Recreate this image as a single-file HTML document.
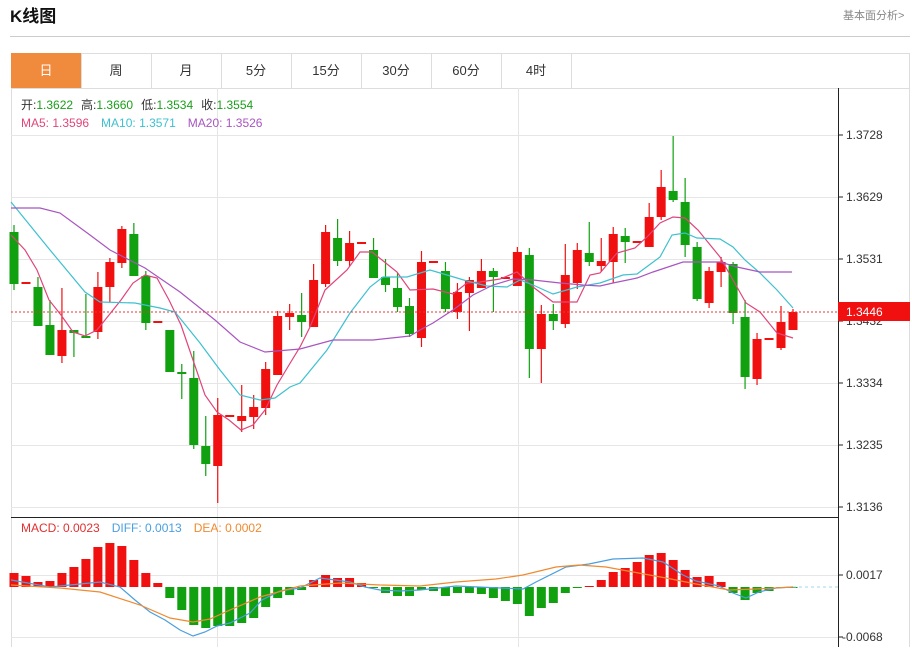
<!DOCTYPE html>
<html><head><meta charset="utf-8"><style>
body{margin:0;width:912px;height:647px;overflow:hidden;background:#fff;font-family:"Liberation Sans","Noto Sans CJK SC",sans-serif;}
svg text{font-family:"Liberation Sans","Noto Sans CJK SC",sans-serif;}
</style></head><body>
<svg id="s" width="912" height="647" viewBox="0 0 912 647" xmlns="http://www.w3.org/2000/svg">
<rect width="912" height="647" fill="#fff"/>
<text x="10" y="22" font-size="17" font-weight="bold" fill="#111">K线图</text>
<text x="843" y="19" font-size="11" fill="#888">基本面分析&gt;</text>
<line x1="10" y1="36.5" x2="910" y2="36.5" stroke="#ccc"/>
<rect x="11.5" y="53.5" width="898" height="600" fill="none" stroke="#ddd"/>
<line x1="11" y1="88.5" x2="910" y2="88.5" stroke="#ddd"/>
<rect x="11" y="53" width="70" height="35" fill="#f08a3c"/>
<g stroke="#ddd"><line x1="81.5" y1="53" x2="81.5" y2="88"/><line x1="151.5" y1="53" x2="151.5" y2="88"/><line x1="221.5" y1="53" x2="221.5" y2="88"/><line x1="291.5" y1="53" x2="291.5" y2="88"/><line x1="361.5" y1="53" x2="361.5" y2="88"/><line x1="431.5" y1="53" x2="431.5" y2="88"/><line x1="501.5" y1="53" x2="501.5" y2="88"/><line x1="571.5" y1="53" x2="571.5" y2="88"/></g>
<g font-size="13" text-anchor="middle" fill="#333">
<text x="46" y="75" fill="#fff">日</text><text x="116" y="75">周</text><text x="186" y="75">月</text><text x="256" y="75">5分</text><text x="326" y="75">15分</text><text x="396" y="75">30分</text><text x="466" y="75">60分</text><text x="536" y="75">4时</text></g>
<g id="grid" stroke="#e6e6e6"></g>
<g id="plot"></g>
<line x1="838.5" y1="88" x2="838.5" y2="647" stroke="#222"/>
<line x1="11" y1="517.5" x2="838" y2="517.5" stroke="#222"/>
<line x1="11" y1="312" x2="838" y2="312" stroke="#f03030" stroke-dasharray="2,2"/>
<g font-size="12" fill="#333">
<text x="846" y="139">1.3728</text><text x="846" y="201">1.3629</text><text x="846" y="263">1.3531</text><text x="846" y="325">1.3432</text><text x="846" y="387">1.3334</text><text x="846" y="449">1.3235</text><text x="846" y="511">1.3136</text>
<text x="846" y="579">0.0017</text><text x="842" y="641">-0.0068</text></g>
<g stroke="#222"><line x1="838" y1="135" x2="843" y2="135"/><line x1="838" y1="197" x2="843" y2="197"/><line x1="838" y1="259" x2="843" y2="259"/><line x1="838" y1="321" x2="843" y2="321"/><line x1="838" y1="383" x2="843" y2="383"/><line x1="838" y1="445" x2="843" y2="445"/><line x1="838" y1="507" x2="843" y2="507"/><line x1="838" y1="575" x2="843" y2="575"/><line x1="838" y1="637" x2="843" y2="637"/></g>
<rect x="838" y="302" width="72" height="19" fill="#f01010"/>
<text x="846" y="316" font-size="12" fill="#fff">1.3446</text>
<g font-size="12">
<text x="21" y="109"><tspan fill="#333">开:</tspan><tspan fill="#1a9e1a">1.3622</tspan><tspan fill="#333" dx="8">高:</tspan><tspan fill="#1a9e1a">1.3660</tspan><tspan fill="#333" dx="8">低:</tspan><tspan fill="#1a9e1a">1.3534</tspan><tspan fill="#333" dx="8">收:</tspan><tspan fill="#1a9e1a">1.3554</tspan></text>
<text x="21" y="127"><tspan fill="#e0457b">MA5: 1.3596</tspan><tspan fill="#3ec0d0" dx="12">MA10: 1.3571</tspan><tspan fill="#a855c0" dx="12">MA20: 1.3526</tspan></text>
<text x="21" y="532"><tspan fill="#e03030">MACD: 0.0023</tspan><tspan fill="#4a9fe0" dx="12">DIFF: 0.0013</tspan><tspan fill="#f08a30" dx="12">DEA: 0.0002</tspan></text>
</g>
</svg>
<script>
var NS="http://www.w3.org/2000/svg";
function el(p,t,a){var e=document.createElementNS(NS,t);for(var k in a)e.setAttribute(k,a[k]);document.getElementById(p).appendChild(e);return e;}
[135,197,259,321,383,445,507,575,637].forEach(function(y){el("grid","line",{x1:11,x2:838,y1:y+.5,y2:y+.5});});
[217,518].forEach(function(x){el("grid","line",{x1:x+.5,x2:x+.5,y1:88,y2:647});});
// [color(r/g), bodyTop, bodyBot, wickTop, wickBot]
var C=[["g",232,284,225,290],["r",283,283,283,283],["g",287,326,277,326],["g",325,355,300,355],["r",330,356,288,363],["g",330,333,330,357],["g",337,337,294,337],["r",287,332,272,339],["r",262,287,258,302],["r",229,263,226,268],["g",234,276,223,276],["g",276,323,271,330],["r",322,322,322,322],["g",330,372,330,372],["g",373,373,364,399],["g",378,445,351,449],["g",446,464,416,476],["r",415,466,398,503],["r",416,416,416,416],["r",416,421,385,432],["r",407,417,395,429],["r",369,408,362,415],["r",316,375,311,375],["r",313,317,304,330],["g",315,322,293,337],["r",280,327,264,327],["r",232,284,225,287],["g",238,261,219,266],["r",243,261,231,266],["r",243,243,243,243],["g",250,278,238,278],["g",277,285,259,292],["g",288,307,273,312],["g",306,334,298,337],["r",262,338,251,347],["r",262,262,262,262],["g",271,309,262,312],["r",292,312,283,319],["r",280,293,277,331],["r",271,288,259,288],["g",271,277,268,312],["r",278,278,278,278],["r",252,286,247,286],["g",255,349,248,378],["r",314,349,305,383],["g",314,321,304,330],["r",275,324,244,328],["r",250,283,243,289],["g",253,262,222,266],["r",261,266,238,272],["r",234,262,227,283],["g",236,242,228,263],["r",242,242,242,242],["r",217,247,203,247],["r",187,217,170,220],["g",191,200,136,202],["g",202,245,178,257],["g",247,299,242,301],["r",271,303,267,308],["r",262,272,257,287],["g",264,313,262,324],["g",317,377,300,389],["r",339,379,333,385],["r",339,339,339,339],["r",322,348,306,350],["r",312,330,309,330]];
var M=[573,576,582,581,573,567,559,547,543,546,560,573,583,598,610,625,628,626,626,623,618,607,598,595,590,580,575,578,578,583,588,593,596,596,590,591,596,593,593,594,598,601,604,616,608,603,593,588,586,580,572,568,562,555,553,560,570,577,576,582,593,600,593,591,588,587];
function X(i){return 14+i*(793-14)/65;}
M.forEach(function(y,i){var x=X(i);var t=Math.min(y,587),h=Math.abs(y-587)||1;el("plot","rect",{x:x-4.5,y:t,width:9,height:h,fill:y<587?"#f01010":"#10a010"});});
el("plot","line",{x1:793,x2:838,y1:587,y2:587,stroke:"#9fd8e8","stroke-dasharray":"3,3"});
function pl(pts,c){el("plot","polyline",{points:pts,fill:"none",stroke:c,"stroke-width":1.2});}
pl("11,580 50,587 70,585 100,582 120,587 135,600 150,612 165,620 180,630 193,636 205,632 217,626 230,623 250,613 262,600 280,591 300,588 320,578 335,580 350,582 365,587 380,590 400,591 420,590 456,586 523,589 536,582 566,567 589,564 613,559 643,558 663,562 683,575 696,581 719,586 733,593 746,598 759,592 776,588 793,587","#4a9fe0");
pl("11,585 60,588 100,592 140,605 170,618 193,622 210,619 230,610 260,597 300,586 340,583 380,585 420,586 456,582 496,579 523,575 556,567 579,565 606,567 633,572 666,578 696,584 729,590 756,589 793,587","#f08a30");
C.forEach(function(c,i){var x=X(i),col=c[0]=="r"?"#f01010":"#10a010";
el("plot","line",{x1:x,x2:x,y1:c[3],y2:c[4],stroke:col,"stroke-width":1.2});
var h=c[2]-c[1];if(h<2){el("plot","rect",{x:x-4.5,y:c[1]-1,width:9,height:2,fill:col});}else el("plot","rect",{x:x-4.5,y:c[1],width:9,height:h,fill:col});});
pl("11,235 25,250 37,270 49,300 61,315 73,332 85,336 97,330 109,315 121,300 133,283 145,275 157,278 169,300 181,325 193,360 205,395 217,412 229,420 241,430 253,425 265,410 277,385 289,365 300,347 310,327 325,290 347,270 360,252 372,252 397,272 410,290 433,289 453,294 467,283 480,282 500,279 517,272 533,287 553,302 577,302 590,275 600,273 617,253 635,248 647,237 660,223 673,217 685,218 698,230 720,257 733,280 746,303 760,312 777,333 793,338","#e0457b");
pl("11,202 50,250 85,292 100,302 135,303 160,308 175,312 200,343 220,370 240,395 260,400 275,398 290,387 300,383 327,350 350,313 370,287 383,277 407,277 430,270 447,275 467,281 487,286 507,287 520,280 533,285 553,294 577,287 600,283 623,275 637,274 660,257 672,235 685,233 697,238 720,239 733,247 745,260 760,273 777,290 793,308","#3ec0d0");
pl("11,208 40,208 60,213 90,235 110,250 145,268 180,292 215,320 240,342 265,352 300,349 333,340 373,340 410,336 420,330 433,323 453,310 473,295 493,285 513,279 533,280 560,283 583,285 600,286 613,283 637,278 653,272 683,262 720,262 737,267 760,272 792,272","#a855c0");
</script>
</body></html>
